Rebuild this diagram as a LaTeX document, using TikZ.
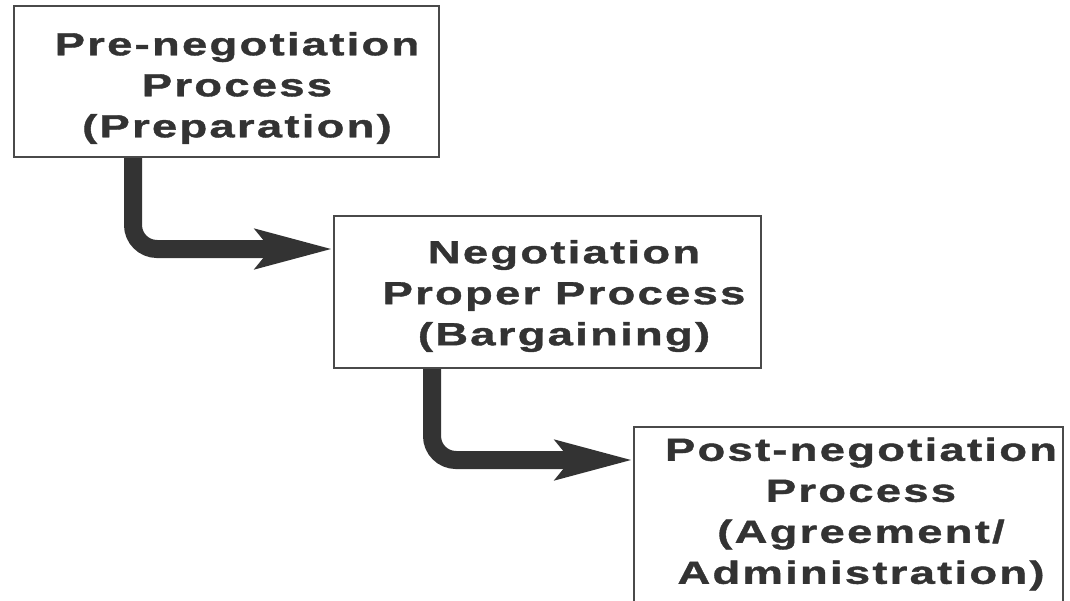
\documentclass[tikz,border=0pt]{standalone}
\usepackage{fontspec}
\usetikzlibrary{arrows.meta}
\newfontfamily\wideheros[FakeStretch=1.42,LetterSpace=7,FakeBold=1.2]{Liberation Sans}
\newcommand\boxtextfont{\wideheros\bfseries\fontsize{32}{41}\selectfont}
\definecolor{inkgray}{HTML}{333333}
\definecolor{framegray}{HTML}{4A4A4A}
\tikzset{
  stagebox/.style={draw=framegray, line width=2pt, fill=white, rectangle, anchor=north west, inner sep=0pt},
  stagetext/.style={text=inkgray, align=center, font=\boxtextfont, inner sep=0pt},
  flow/.style={draw=inkgray, line width=18pt, rounded corners=24pt,
    -{Stealth[length=76pt, width=38pt, inset=14pt]}},
}
\begin{document}
\begin{tikzpicture}[x=1pt, y=-1pt]
\useasboundingbox (0,0) rectangle (1070,600);
\clip (0,0) rectangle (1070,600);
\node[stagebox, minimum width=425pt, minimum height=151pt] (b1) at (13,5) {};
\node[stagebox, minimum width=427pt, minimum height=152pt] (b2) at (333,215) {};
\node[stagebox, minimum width=429pt, minimum height=200pt] (b3) at (633,426) {};
\node[stagetext] (t1) at (237,88) {Pre-negotiation\\Process\\(Preparation)};
\node[stagetext] (t2) at (564,296) {Negotiation\\Proper Process\\(Bargaining)};
\node[stagetext] (t3) at (861,514) {Post-negotiation\\Process\\(Agreement/\\Administration)};
\coordinate (a1s) at ([xshift=120pt]b1.south west);
\coordinate (a1e) at ([yshift=-34pt]b2.north west);
\coordinate (a2s) at ([xshift=99pt]b2.south west);
\coordinate (a2e) at ([yshift=-34pt]b3.north west);
\draw[flow] (a1s) |- (a1e);
\draw[flow] (a2s) |- (a2e);
\end{tikzpicture}
\end{document}
